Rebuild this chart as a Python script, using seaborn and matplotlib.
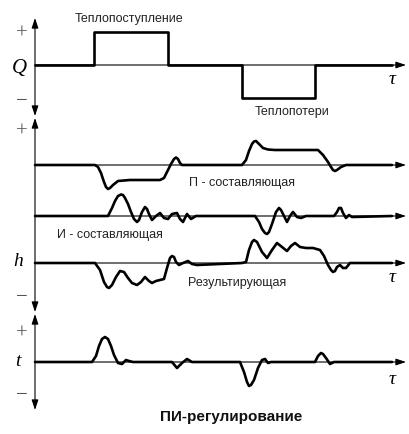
import matplotlib
matplotlib.use("Agg")
import matplotlib.pyplot as plt
import seaborn as sns
from matplotlib import font_manager

# heat input Q (steps)
q_tau = [35, 94, 94, 168, 168, 242, 242, 315, 315, 392]
q_val = [0, 0, 33, 33, 0, 0, -33, -33, 0, 0]

# P component
p_tau = [35, 95, 98, 101, 104, 106, 108, 110, 113, 118, 130, 160, 164, 168, 171, 174,
         176, 178, 180, 182, 186, 242, 246, 249, 252, 254, 256, 259, 263, 268, 275, 318,
         323, 328, 331, 333, 335, 337, 341, 346, 392]
p_val = [0, 0, -2, -8, -17, -22, -24, -23, -20, -16, -15, -15, -13, -5, 1, 6,
         7.5, 6, 2, 0, 0, 0, 5, 14, 21, 23.5, 24, 21, 17, 15.5, 15, 15,
         10, 3, -2, -5, -6, -5, -2, 0, 0]

# I component
i_tau = [35, 108, 112, 115, 118, 121, 123, 125, 128, 131, 134, 137, 139, 142, 145, 147,
         149, 152, 156, 160, 164, 168, 172, 177, 180, 183, 187, 191, 196, 255, 259, 262,
         265, 267, 269, 272, 276, 279, 281, 284, 287, 290, 293, 297, 301, 306, 334, 337,
         339, 341, 343, 346, 349, 352, 392]
i_val = [0, 0, 8, 15, 20, 21.5, 21, 18, 12, 4, -3, -6, -4, 4, 9, 7,
         2, -4, 0, 3, -2, -3, 2, 3, -3, -6, 2, -3, 0, 0, -6, -13,
         -17, -18, -16, -8, 4, 8, 6, 0, -6, 0, 4, -1, -2, 0, 0, 4,
         8, 8, 3, -2, 1, -1, 0]

# resulting valve position h
h_tau = [35, 95, 100, 104, 107, 109, 112, 116, 120, 124, 128, 132, 137, 141, 145, 149,
         152, 156, 160, 164, 167, 170, 172, 174, 176, 179, 183, 188, 192, 197, 242, 246,
         249, 252, 254, 257, 262, 267, 272, 277, 282, 287, 291, 295, 300, 306, 313, 320,
         324, 328, 331, 333, 335, 337, 340, 343, 346, 350, 392]
h_val = [0, 0, -7, -19, -24, -25, -22, -14, -8, -9, -15, -20, -22, -19, -14, -18,
         -20, -18, -17, -16, -5, 5, 7, 6, 1, -2, 0, 2, -1, -2, 0, 1,
         13, 21, 23, 21, 11, 5, 13, 20, 16, 12, 17, 20, 16, 15, 15, 13,
         7, -2, -7, -9, -8, -4, -2, -5, -5, 0, 0]

# room temperature t
t_tau = [35, 92, 96, 99, 102, 105, 108, 111, 114, 118, 122, 126, 129, 133, 172, 177,
         182, 187, 192, 240, 244, 247, 249, 251, 254, 258, 262, 265, 268, 271, 275, 315,
         318, 321, 323, 326, 330, 334, 392]
t_val = [0, 0, 6, 16, 23, 25, 23, 16, 7, -1, -2, 2, 1, 0, 0, -6,
         -1, 3, 0, 0, -10, -20, -24, -23, -18, -6, 2, 3, -1, 0, 0, 0,
         6, 9, 8, 4, -2, 0, 0]

sns.set_style("white")
names = {f.name for f in font_manager.fontManager.ttflist}
sans = "Liberation Sans Narrow" if "Liberation Sans Narrow" in names else "Liberation Sans"
plt.rcParams["font.family"] = [sans, "DejaVu Sans"]

fig = plt.figure(figsize=(4.09, 4.34), dpi=100)
ax = fig.add_axes([0, 0, 1, 1])
ax.set_xlim(0, 409)
ax.set_ylim(434, 0)
ax.axis("off")

x0 = 35
arr = dict(arrowstyle="-|>,head_length=0.6,head_width=0.2", lw=0.8, color="black",
           shrinkA=0, shrinkB=0, mutation_scale=10)
darr = dict(arr, arrowstyle="<|-|>,head_length=0.6,head_width=0.2")


def curve(tau, val, base):
    y = [base - v for v in val]
    sns.lineplot(x=tau, y=y, sort=False, estimator=None, ax=ax, color="black",
                 lw=1.9, solid_joinstyle="round", solid_capstyle="round")


def haxis(base):
    ax.annotate("", xy=(406, base), xytext=(x0, base), arrowprops=arr)


serif = dict(family="Liberation Serif", color="#555555")
# vertical axes
for top, bot in [(18, 116), (118, 312), (314, 410)]:
    ax.annotate("", xy=(x0, top), xytext=(x0, bot), arrowprops=darr)

for base in [65, 165, 216, 263, 362]:
    haxis(base)

curve(q_tau, q_val, 65)
curve(p_tau, p_val, 165)
curve(i_tau, i_val, 216)
curve(h_tau, h_val, 263)
curve(t_tau, t_val, 362)

# +/- marks
for yy, s in [(34, "+"), (101, "\u2212"), (132, "+"), (298, "\u2212"), (334, "+"), (396, "\u2212")]:
    ax.text(22, yy, s, ha="center", va="center", fontsize=15, **serif)

sym = dict(family="Liberation Serif", style="italic", color="black", ha="center", va="center")
ax.text(19, 68, "Q", fontsize=15, **sym)
ax.text(18, 262, "h", fontsize=14, **sym)
ax.text(18, 361, "t", fontsize=14, **sym)
for yy in [79, 277, 379]:
    ax.text(392, yy, "\u03c4", fontsize=14, **sym)

lab = dict(fontsize=9, ha="center", va="center", color="#222222")
ax.text(129, 19, "Теплопоступление", **lab)
ax.text(292, 112, "Теплопотери", **lab)
ax.text(242, 183, "П - составляющая", **lab)
ax.text(110, 235, "И - составляющая", **lab)
ax.text(237, 283, "Результирующая", **lab)
ax.text(231, 417, "ПИ-регулирование", fontsize=11, fontweight="bold",
        ha="center", va="center", color="#111111")

fig.savefig("out.png", dpi=100)
